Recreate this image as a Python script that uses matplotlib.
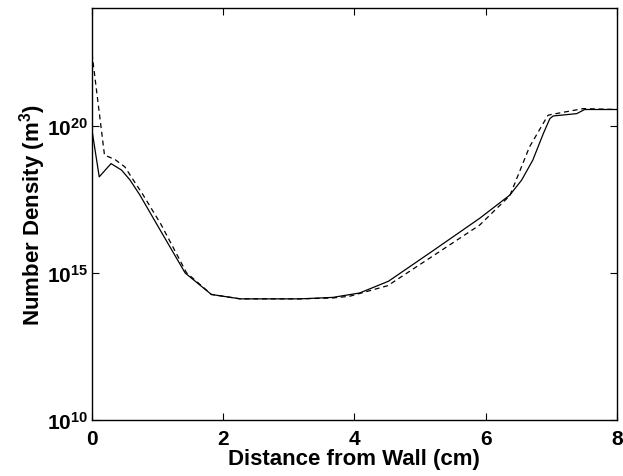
import matplotlib
matplotlib.use("Agg")
import matplotlib.pyplot as plt
import numpy as np

# solid curve (x in cm, log10 of density)
x_solid = [0.0, 0.11, 0.29, 0.45, 0.58, 0.73, 1.0, 1.42, 1.82, 2.26, 3.17, 3.67, 4.08, 4.52, 5.2, 5.91, 6.37, 6.55, 6.72, 6.88, 6.98, 7.03, 7.39, 7.51, 8.0]
log_solid = [19.84, 18.26, 18.71, 18.49, 18.15, 17.64, 16.6, 14.99, 14.26, 14.11, 14.11, 14.16, 14.31, 14.71, 15.75, 16.85, 17.64, 18.15, 18.83, 19.73, 20.24, 20.33, 20.41, 20.55, 20.55]

# dashed curve
x_dash = [0.0, 0.19, 0.35, 0.5, 0.63, 0.78, 1.05, 1.44, 1.82, 2.26, 3.17, 3.67, 3.93, 4.51, 5.3, 5.91, 6.37, 6.67, 6.95, 7.0, 7.49, 8.0]
log_dash = [22.45, 19.0, 18.85, 18.6, 18.15, 17.64, 16.65, 15.0, 14.26, 14.11, 14.11, 14.14, 14.2, 14.56, 15.72, 16.62, 17.62, 19.28, 20.35, 20.38, 20.58, 20.55]

plt.rcParams['font.family'] = ['Liberation Sans', 'DejaVu Sans']
plt.rcParams['mathtext.fontset'] = 'custom'
plt.rcParams['mathtext.rm'] = 'Liberation Sans:bold'
plt.rcParams['mathtext.it'] = 'Liberation Sans:bold'
plt.rcParams['mathtext.bf'] = 'Liberation Sans:bold'

fig = plt.figure(figsize=(6.23, 4.77), dpi=100)
ax = fig.add_axes([0.1477, 0.118, 0.8423, 0.863])

ax.plot(x_solid, 10 ** np.array(log_solid), color='black', lw=0.9)
ax.plot(x_dash, 10 ** np.array(log_dash), color='black', lw=0.9, dashes=(4, 3))

ax.set_yscale('log')
ax.set_xlim(0, 8)
ax.set_ylim(1e10, 1e24)
ax.set_xticks([0, 2, 4, 6, 8])
ax.set_yticks([1e10, 1e15, 1e20])
ax.set_yticklabels([r'$10^{10}$', r'$10^{15}$', r'$10^{20}$'])
ax.minorticks_off()
ax.tick_params(direction='in', top=True, right=True, length=5, width=0.8, labelsize=15)
ax.tick_params(axis='x', pad=7)
ax.tick_params(axis='y', pad=3)
for lab in ax.get_xticklabels():
    lab.set_fontweight('bold')
for s in ax.spines.values():
    s.set_linewidth(1.0)

ax.set_xlabel('Distance from Wall (cm)', fontsize=16, fontweight='bold', labelpad=0)
ax.set_ylabel(r'Number Density (m$^3$)', fontsize=16, fontweight='bold', labelpad=-1)

plt.savefig('out.png', dpi=100)
